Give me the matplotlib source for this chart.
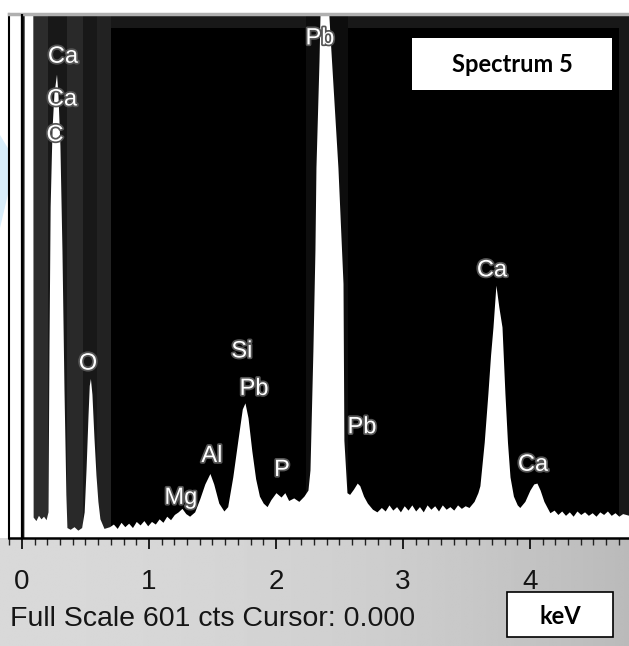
import matplotlib.pyplot as plt
import matplotlib.patheffects as pe
from matplotlib.patches import Rectangle, Polygon
from matplotlib.ticker import MultipleLocator
import numpy as np

# spectrum: energy (keV) and counts (clipped above 601)
energy = [-0.102, -0.012, -0.011, 0.015, 0.018, 0.085, 0.088, 0.11, 0.13, 0.15, 0.17, 0.19,
          0.205, 0.213, 0.222, 0.237, 0.252, 0.272, 0.283, 0.299, 0.315, 0.331, 0.346, 0.354,
          0.38, 0.41, 0.44, 0.47, 0.49, 0.505, 0.52, 0.53, 0.539, 0.551, 0.567, 0.583, 0.598,
          0.614, 0.646, 0.69, 0.72, 0.75, 0.78, 0.81, 0.84, 0.87, 0.90, 0.93, 0.96, 0.99,
          1.02, 1.05, 1.08, 1.11, 1.14, 1.17, 1.20, 1.23, 1.26, 1.29, 1.32, 1.36, 1.40, 1.44,
          1.48, 1.51, 1.55, 1.59, 1.62, 1.66, 1.70, 1.735, 1.756, 1.78, 1.81, 1.84, 1.87, 1.90,
          1.93, 1.96, 2.00, 2.04, 2.07, 2.10, 2.14, 2.18, 2.22, 2.252, 2.268, 2.291, 2.307,
          2.315, 2.339, 2.362, 2.378, 2.425, 2.488, 2.528, 2.535, 2.559, 2.58, 2.61, 2.64,
          2.66, 2.69, 2.72, 2.76, 2.795, 2.83, 2.86, 2.89, 2.92, 2.95, 2.98, 3.01, 3.04, 3.07,
          3.10, 3.13, 3.16, 3.19, 3.22, 3.25, 3.28, 3.31, 3.34, 3.37, 3.40, 3.43, 3.46, 3.49,
          3.52, 3.56, 3.59, 3.606, 3.64, 3.669, 3.69, 3.709, 3.732, 3.755, 3.78, 3.803, 3.823,
          3.843, 3.87, 3.90, 3.92, 3.96, 4.00, 4.03, 4.055, 4.08, 4.11, 4.157, 4.19, 4.22,
          4.25, 4.28, 4.31, 4.34, 4.37, 4.40, 4.43, 4.46, 4.49, 4.52, 4.55, 4.58, 4.61, 4.64,
          4.67, 4.70, 4.73, 4.78]
counts = [700, 700, 0, 0, 700, 700, 24, 20, 26, 22, 25, 21,
          30, 220, 380, 470, 510, 532, 510, 450, 330, 170, 50, 12,
          10, 13, 9, 12, 30, 80, 140, 175, 183, 165, 115, 72, 42,
          22, 11, 13, 16, 11, 18, 13, 17, 12, 19, 15, 20, 14,
          19, 16, 22, 18, 25, 21, 27, 30, 34, 28, 25, 30, 45, 62,
          74, 62, 40, 31, 36, 70, 112, 148, 155, 138, 100, 68, 48, 40,
          36, 44, 52, 47, 52, 43, 46, 42, 48, 55, 78, 215, 330,
          425, 547, 700, 700, 578, 425, 292, 112, 52, 50, 56, 63,
          60, 48, 40, 33, 30, 35, 31, 38, 32, 36, 30, 37, 32, 38,
          31, 36, 30, 38, 33, 37, 31, 38, 33, 36, 32, 38, 34, 37,
          35, 42, 52, 60, 110, 166, 210, 242, 290, 265, 242, 166, 110,
          70, 48, 38, 35, 42, 55, 62, 63, 55, 42, 29, 32, 27,
          31, 26, 30, 25, 31, 27, 30, 26, 29, 25, 30, 27, 31, 26,
          29, 25, 28, 26]

peak_labels = ['Ca', 'Ca', 'C', 'Pb', 'O', 'Si', 'Pb', 'Al', 'Mg', 'P', 'Pb', 'Ca', 'Ca']
label_x = [0.323, 0.315, 0.26, 2.346, 0.52, 1.732, 1.827, 1.496, 1.252, 2.047, 2.677, 3.701, 4.024]
label_y = [552, 503, 462, 573, 200, 214, 171, 94, 46, 78, 127, 307, 84]

tick_vals = [0, 1, 2, 3, 4]
full_scale = 601

W, H = 629, 646


def fr(x0, y0, x1, y1):
    return [x0 / W, 1 - y1 / H, (x1 - x0) / W, (y1 - y0) / H]


fig = plt.figure(figsize=(W / 100, H / 100), dpi=100)
fig.patch.set_facecolor('white')

# grey strip under the axis
axb = fig.add_axes(fr(0, 538, 629, 646))
g = np.linspace(0, 1, 200)
grad = np.tile(0.85 - 0.12 * g ** 2, (40, 1))
axb.imshow(grad, cmap='gray', vmin=0, vmax=1, aspect='auto', extent=[0, 1, 0, 1])
axb.axis('off')

ax = fig.add_axes(fr(9, 14, 629, 538))
ax.set_zorder(3)
ax.set_facecolor('#181818')
ax.set_xlim(-0.102, 4.78)
ax.set_ylim(0, full_scale)

ax.add_patch(Rectangle((0.70, 0), 4.0, 585, color='black', lw=0, zorder=0.5))
for a, b, c in [(0.087, 0.205, '#2c2c2c'), (0.354, 0.48, '#292929'), (0.59, 0.70, '#222222'),
                (2.24, 2.57, '#0d0d0d')]:
    ax.axvspan(a, b, color=c, lw=0, zorder=0.8)

ax.fill_between(energy, 0, counts, color='white', lw=0, zorder=2)
ax.axvline(0, color='black', lw=1.6, zorder=3)

for t, x, y in zip(peak_labels, label_x, label_y):
    ax.text(x, y, t, color='white', fontsize=17, family='Liberation Sans',
            ha='center', va='center', zorder=4,
            path_effects=[pe.withStroke(linewidth=2.5, foreground='#555555')])

ax.spines['right'].set_visible(False)
ax.spines['left'].set_color('black')
ax.spines['left'].set_linewidth(1.5)
ax.spines['top'].set_color('#b0b0b0')
ax.spines['top'].set_linewidth(2.5)
ax.spines['bottom'].set_color('black')
ax.spines['bottom'].set_linewidth(1.8)

ax.set_yticks([])
ax.set_xticks(tick_vals)
ax.set_xticklabels([str(v) for v in tick_vals])
ax.xaxis.set_minor_locator(MultipleLocator(0.1))
ax.tick_params(axis='x', which='major', direction='out', length=8, width=1.2,
               color='black', pad=14, labelsize=20, labelcolor='#151515')
ax.tick_params(axis='x', which='minor', direction='out', length=5, width=1, color='#222222')
for lab in ax.get_xticklabels():
    lab.set_family('Liberation Sans')

fig.text(10 / W, 1 - 626 / H, 'Full Scale 601 cts Cursor: 0.000', fontsize=20.5,
         family='Liberation Sans', color='#151515', ha='left', va='baseline')

# watermark sliver at the left edge
fig.patches.append(Polygon([[0, 1 - 135 / H], [9 / W, 1 - 150 / H], [9 / W, 1 - 190 / H],
                            [0, 1 - 228 / H]], closed=True, transform=fig.transFigure,
                           color='#d8edfa', lw=0))

# boxes
fig.patches.append(Rectangle((412 / W, 1 - 90 / H), 200 / W, 52 / H, transform=fig.transFigure,
                             facecolor='white', edgecolor='none', zorder=5))
fig.text(512 / W, 1 - 64 / H, 'Spectrum 5', fontsize=17, fontweight='bold', family='Lato',
         ha='center', va='center', color='black', zorder=6)
fig.patches.append(Rectangle((507 / W, 1 - 637 / H), 106 / W, 45 / H, transform=fig.transFigure,
                             facecolor='white', edgecolor='black', lw=1.2, zorder=5))
fig.text(560 / W, 1 - 616 / H, 'keV', fontsize=17, fontweight='bold', family='Lato',
         ha='center', va='center', color='black', zorder=6)

fig.savefig('out.png', dpi=100)
